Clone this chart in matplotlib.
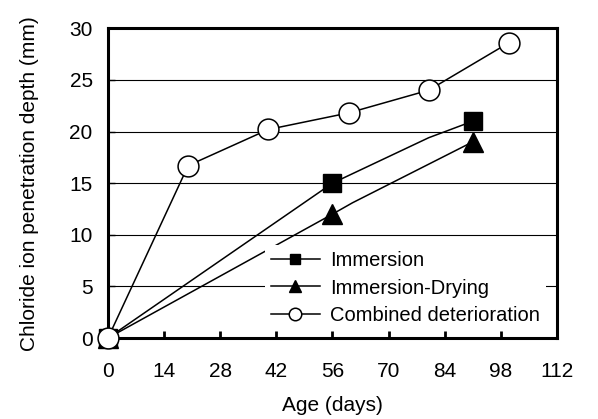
import matplotlib
matplotlib.use("Agg")
import matplotlib.pyplot as plt

# data (some line vertices carry no marker)
imm_days = [0, 56, 80, 91]
imm_depth = [0, 15.0, 19.4, 21.0]
imm_marks = [0, 1, 3]

dry_days = [0, 56, 61, 91]
dry_depth = [0, 12.0, 13.1, 19.0]
dry_marks = [0, 1, 3]

comb_days = [0, 20, 40, 60, 80, 100]
comb_depth = [0, 16.7, 20.2, 21.8, 24.0, 28.6]

x_ticks = [0, 14, 28, 42, 56, 70, 84, 98, 112]
y_ticks = [0, 5, 10, 15, 20, 25, 30]

plt.rcParams['font.family'] = ['Liberation Sans', 'DejaVu Sans']
plt.rcParams['font.size'] = 15

fig = plt.figure(figsize=(5.98, 4.19), dpi=100)
ax = fig.add_axes([0.1806, 0.1933, 0.7508, 0.7392])

ax.plot(imm_days, imm_depth, color='black', lw=1.1, marker='s', ms=13,
        markevery=imm_marks, mfc='black', mec='black', label='Immersion',
        clip_on=False, zorder=3)
ax.plot(dry_days, dry_depth, color='black', lw=1.1, marker='^', ms=14,
        markevery=dry_marks, mfc='black', mec='black', label='Immersion-Drying',
        clip_on=False, zorder=3)
ax.plot(comb_days, comb_depth, color='black', lw=1.1, marker='o', ms=15,
        mfc='white', mec='black', mew=1.1, label='Combined deterioration',
        clip_on=False, zorder=4)

ax.set_xlim(0, 112)
ax.set_ylim(0, 30)
ax.set_xticks(x_ticks)
ax.set_yticks(y_ticks)
ax.yaxis.grid(True, color='black', lw=0.8)
ax.set_axisbelow(True)

for s in ax.spines.values():
    s.set_linewidth(2.2)
ax.tick_params(axis='x', direction='in', length=5, width=2, pad=17)
ax.tick_params(axis='y', direction='in', length=5, width=1, pad=11)

ax.set_xlabel('Age (days)', labelpad=11)
ax.set_ylabel('Chloride ion penetration depth (mm)', labelpad=22)

leg = ax.legend(loc='lower right', bbox_to_anchor=(0.997, -0.01),
                fontsize=14.5, handlelength=2.4, markerscale=0.6,
                labelspacing=0.42, handletextpad=0.5, borderpad=0.3,
                fancybox=False, framealpha=1, facecolor='white',
                edgecolor='none')

fig.savefig('out.png', dpi=100)
